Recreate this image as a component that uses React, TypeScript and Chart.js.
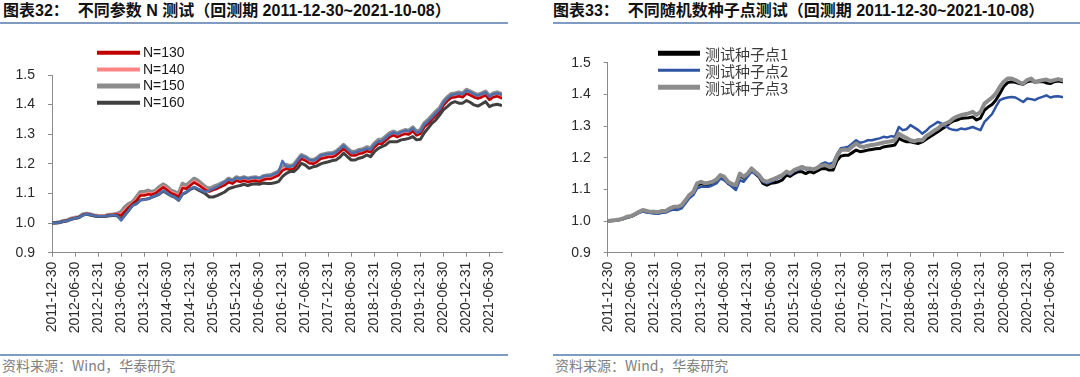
import React, { useEffect, useRef } from 'react';
import { Chart, registerables } from 'chart.js';

Chart.register(...registerables);

// ---------- categories ----------
const START = '2011-12-30';
const END = '2021-10-08';
const tickDates = [
  '2011-12-30', '2012-06-30', '2012-12-31', '2013-06-30', '2013-12-31',
  '2014-06-30', '2014-12-31', '2015-06-30', '2015-12-31', '2016-06-30',
  '2016-12-31', '2017-06-30', '2017-12-31', '2018-06-30', '2018-12-31',
  '2019-06-30', '2019-12-31', '2020-06-30', '2020-12-31', '2021-06-30',
];
const yTicks = [0.9, 1.0, 1.1, 1.2, 1.3, 1.4, 1.5];

// month-end observation dates: 2011-12-30, 2012-01-31 ... 2021-09-30, 2021-10-08
const obsDates: string[] = (() => {
  const out = [START];
  for (let k = 1; k <= 117; k++) out.push(new Date(Date.UTC(2012, k, 0)).toISOString().slice(0, 10));
  out.push(END);
  return out;
})();
const dayOf = (s: string) => (Date.parse(s) - Date.parse(START)) / 864e5;

// ---------- chart 32: parameter N ----------
const n130 = [
  1.000, 1.001, 1.003, 1.006, 1.009, 1.014, 1.017, 1.020, 1.028, 1.031, 1.028, 1.025, 1.023, 1.023, 1.024, 1.027, 1.028, 1.029,
  1.025, 1.040, 1.054, 1.066, 1.076, 1.093, 1.093, 1.097, 1.096, 1.101, 1.111, 1.121, 1.112, 1.101, 1.096, 1.088, 1.118, 1.116, 1.127, 1.137, 1.130, 1.121,
  1.112, 1.106, 1.111, 1.116, 1.122, 1.128, 1.138, 1.133, 1.143, 1.139, 1.143, 1.139, 1.141, 1.143, 1.139, 1.146, 1.149,
  1.149, 1.155, 1.161, 1.177, 1.183, 1.180, 1.183, 1.200, 1.217, 1.211,
  1.202, 1.200, 1.206, 1.217, 1.220, 1.223, 1.223, 1.228, 1.239, 1.251,
  1.239, 1.228, 1.228, 1.234, 1.236, 1.243, 1.239, 1.256, 1.268, 1.268,
  1.279, 1.290, 1.296, 1.290, 1.296, 1.301, 1.299, 1.310, 1.296, 1.301,
  1.324, 1.335, 1.349, 1.363, 1.375, 1.397, 1.412, 1.423, 1.425, 1.428,
  1.425, 1.437, 1.431, 1.425, 1.420, 1.425, 1.431, 1.416, 1.425, 1.428,
  1.423, 1.420,
];
const n140 = [
  1.000, 1.001, 1.003, 1.007, 1.009, 1.014, 1.018, 1.020, 1.028, 1.031, 1.029, 1.026, 1.024, 1.024, 1.024, 1.027, 1.028, 1.030,
  1.028, 1.044, 1.057, 1.067, 1.080, 1.096, 1.097, 1.101, 1.098, 1.104, 1.114, 1.124, 1.115, 1.104, 1.099, 1.091, 1.122, 1.119, 1.130, 1.141, 1.134, 1.124,
  1.115, 1.109, 1.115, 1.120, 1.126, 1.132, 1.142, 1.137, 1.147, 1.143, 1.147, 1.143, 1.145, 1.147, 1.143, 1.150, 1.153,
  1.154, 1.160, 1.166, 1.182, 1.188, 1.185, 1.188, 1.205, 1.222, 1.216,
  1.207, 1.205, 1.211, 1.222, 1.225, 1.228, 1.228, 1.233, 1.244, 1.256,
  1.244, 1.233, 1.233, 1.239, 1.241, 1.248, 1.244, 1.261, 1.273, 1.273,
  1.284, 1.295, 1.301, 1.295, 1.301, 1.306, 1.304, 1.315, 1.301, 1.306,
  1.329, 1.340, 1.354, 1.368, 1.380, 1.402, 1.417, 1.428, 1.430, 1.433,
  1.430, 1.442, 1.436, 1.430, 1.425, 1.430, 1.436, 1.421, 1.430, 1.433,
  1.428, 1.425,
];
const n150 = [
  1.000, 1.001, 1.003, 1.007, 1.009, 1.015, 1.018, 1.020, 1.029, 1.032, 1.029, 1.026, 1.024, 1.024, 1.025, 1.028, 1.029, 1.032,
  1.037, 1.054, 1.065, 1.071, 1.088, 1.105, 1.105, 1.110, 1.105, 1.110, 1.122, 1.131, 1.122, 1.110, 1.105, 1.099, 1.133, 1.127, 1.139, 1.150, 1.144, 1.133,
  1.122, 1.116, 1.122, 1.127, 1.133, 1.139, 1.150, 1.144, 1.155, 1.150, 1.155, 1.150, 1.153, 1.155, 1.150, 1.158, 1.161,
  1.162, 1.168, 1.174, 1.190, 1.196, 1.193, 1.196, 1.213, 1.230, 1.224,
  1.215, 1.213, 1.219, 1.230, 1.233, 1.236, 1.236, 1.241, 1.252, 1.264,
  1.252, 1.241, 1.241, 1.247, 1.249, 1.256, 1.252, 1.269, 1.281, 1.281,
  1.292, 1.303, 1.309, 1.303, 1.309, 1.314, 1.312, 1.323, 1.309, 1.314,
  1.337, 1.348, 1.362, 1.376, 1.388, 1.410, 1.425, 1.436, 1.438, 1.441,
  1.438, 1.450, 1.444, 1.438, 1.433, 1.438, 1.444, 1.429, 1.438, 1.441,
  1.436, 1.433,
];
const n160 = [
  1.000, 1.001, 1.002, 1.006, 1.008, 1.013, 1.016, 1.019, 1.027, 1.030, 1.027, 1.024, 1.022, 1.022, 1.023, 1.025, 1.026, 1.024,
  1.012, 1.028, 1.044, 1.060, 1.066, 1.078, 1.080, 1.082, 1.087, 1.092, 1.098, 1.108, 1.100, 1.092, 1.087, 1.077, 1.098, 1.104, 1.114, 1.120, 1.113, 1.106,
  1.099, 1.088, 1.088, 1.093, 1.099, 1.105, 1.116, 1.120, 1.124, 1.127, 1.131, 1.127, 1.131, 1.133, 1.131, 1.135, 1.134,
  1.134, 1.136, 1.140, 1.157, 1.168, 1.174, 1.174, 1.185, 1.202, 1.196,
  1.185, 1.190, 1.193, 1.200, 1.204, 1.207, 1.211, 1.213, 1.222, 1.236,
  1.224, 1.213, 1.213, 1.219, 1.222, 1.230, 1.224, 1.241, 1.252, 1.258,
  1.264, 1.275, 1.275, 1.275, 1.281, 1.283, 1.286, 1.292, 1.281, 1.283,
  1.305, 1.320, 1.337, 1.348, 1.365, 1.382, 1.393, 1.405, 1.410, 1.405,
  1.405, 1.414, 1.407, 1.399, 1.395, 1.402, 1.410, 1.393, 1.399, 1.401,
  1.398, 1.395,
];
// fifth (unlabelled, blue) curve visible in the original figure
const nBase = [
  1.000, 1.001, 1.002, 1.006, 1.008, 1.013, 1.017, 1.019, 1.027, 1.030, 1.028, 1.025, 1.023, 1.023, 1.024, 1.026, 1.027, 1.025,
  1.009, 1.026, 1.043, 1.060, 1.065, 1.077, 1.079, 1.082, 1.088, 1.093, 1.099, 1.110, 1.101, 1.093, 1.088, 1.077, 1.099, 1.105, 1.116, 1.122, 1.116, 1.110,
  1.105, 1.110, 1.116, 1.122, 1.131, 1.139, 1.148, 1.143, 1.153, 1.149, 1.154, 1.150, 1.152, 1.154, 1.151, 1.157, 1.160,
  1.160, 1.166, 1.172, 1.210, 1.190, 1.190, 1.194, 1.211, 1.227, 1.222,
  1.213, 1.211, 1.217, 1.228, 1.231, 1.234, 1.234, 1.239, 1.250, 1.262,
  1.248, 1.237, 1.238, 1.244, 1.246, 1.252, 1.248, 1.265, 1.276, 1.277,
  1.288, 1.299, 1.306, 1.300, 1.307, 1.312, 1.310, 1.320, 1.305, 1.310,
  1.333, 1.344, 1.357, 1.371, 1.384, 1.406, 1.421, 1.432, 1.435, 1.438,
  1.435, 1.447, 1.441, 1.435, 1.430, 1.436, 1.441, 1.427, 1.436, 1.438,
  1.434, 1.431,
];

// ---------- chart 33: random seeds ----------
const seed1 = [
  1.000, 1.001, 1.002, 1.004, 1.007, 1.012, 1.014, 1.020, 1.027, 1.032, 1.029, 1.027, 1.026, 1.025, 1.029, 1.029, 1.036, 1.041,
  1.041, 1.046, 1.061, 1.077, 1.087, 1.113, 1.118, 1.114, 1.116, 1.119, 1.126, 1.139, 1.134, 1.119, 1.112, 1.108, 1.144, 1.135, 1.145, 1.160, 1.150, 1.139,
  1.119, 1.113, 1.119, 1.121, 1.124, 1.130, 1.145, 1.141, 1.150, 1.156, 1.156, 1.150,
  1.156, 1.152, 1.158, 1.165, 1.166, 1.161, 1.161, 1.190, 1.205, 1.208,
  1.208, 1.216, 1.224, 1.219, 1.221, 1.224, 1.226, 1.228, 1.229, 1.234,
  1.236, 1.238, 1.240, 1.261, 1.255, 1.250, 1.250, 1.247, 1.245, 1.250,
  1.258, 1.266, 1.274, 1.282, 1.290, 1.298, 1.308, 1.316, 1.319, 1.324,
  1.325, 1.326, 1.329, 1.319, 1.325, 1.350, 1.360, 1.368, 1.382, 1.403,
  1.425, 1.437, 1.440, 1.438, 1.434, 1.432, 1.440, 1.443, 1.439, 1.440,
  1.441, 1.436, 1.434, 1.440, 1.442, 1.440, 1.439,
];
const seed2 = [
  1.000, 1.001, 1.002, 1.004, 1.006, 1.011, 1.014, 1.020, 1.026, 1.030, 1.027, 1.025, 1.024, 1.023, 1.026, 1.027, 1.033, 1.036,
  1.035, 1.040, 1.056, 1.072, 1.082, 1.103, 1.108, 1.108, 1.108, 1.113, 1.119, 1.134, 1.129, 1.119, 1.108, 1.098, 1.129, 1.124, 1.140, 1.156, 1.150, 1.140,
  1.124, 1.119, 1.124, 1.130, 1.136, 1.141, 1.152, 1.147, 1.157, 1.162, 1.168, 1.163,
  1.165, 1.162, 1.170, 1.180, 1.185, 1.180, 1.184, 1.210, 1.230, 1.232,
  1.235, 1.245, 1.255, 1.247, 1.250, 1.255, 1.255, 1.258, 1.261, 1.266,
  1.264, 1.268, 1.266, 1.297, 1.287, 1.290, 1.303, 1.295, 1.287, 1.276,
  1.285, 1.297, 1.305, 1.313, 1.308, 1.300, 1.292, 1.288, 1.287, 1.292,
  1.290, 1.293, 1.297, 1.292, 1.287, 1.313, 1.325, 1.338, 1.361, 1.382,
  1.387, 1.390, 1.392, 1.390, 1.383, 1.376, 1.387, 1.385, 1.382, 1.388,
  1.392, 1.397, 1.390, 1.393, 1.394, 1.392, 1.392,
];
const seed3 = [
  1.000, 1.002, 1.003, 1.005, 1.008, 1.014, 1.016, 1.022, 1.029, 1.035, 1.032, 1.029, 1.029, 1.028, 1.032, 1.032, 1.040, 1.045,
  1.045, 1.050, 1.066, 1.082, 1.092, 1.119, 1.124, 1.119, 1.121, 1.124, 1.131, 1.145, 1.140, 1.124, 1.117, 1.113, 1.150, 1.140, 1.150, 1.166, 1.156, 1.145,
  1.129, 1.124, 1.129, 1.134, 1.140, 1.145, 1.156, 1.151, 1.161, 1.166, 1.171, 1.166,
  1.166, 1.163, 1.168, 1.175, 1.177, 1.172, 1.173, 1.205, 1.224, 1.226,
  1.224, 1.235, 1.245, 1.236, 1.234, 1.238, 1.240, 1.242, 1.245, 1.248,
  1.250, 1.252, 1.255, 1.276, 1.268, 1.262, 1.255, 1.252, 1.256, 1.255,
  1.268, 1.276, 1.285, 1.292, 1.303, 1.308, 1.313, 1.324, 1.330, 1.334,
  1.337, 1.340, 1.345, 1.335, 1.345, 1.371, 1.380, 1.390, 1.403, 1.424,
  1.440, 1.450, 1.450, 1.445, 1.438, 1.434, 1.445, 1.450, 1.439, 1.442,
  1.445, 1.447, 1.442, 1.445, 1.448, 1.445, 1.445,
];

// ---------- helpers ----------
const FONT = '"Liberation Sans", Arial, "Noto Sans CJK SC", sans-serif';
const toPoints = (vals: number[]) => vals.map((v, i) => ({ x: dayOf(obsDates[i]), y: v }));

const innerLegend = {
  id: 'innerLegend',
  afterDraw(chart: any, _args: any, o: any) {
    const { ctx, chartArea } = chart;
    const items = chart.data.datasets.filter((d: any) => d.label);
    ctx.save();
    items.forEach((d: any, i: number) => {
      const y = chartArea.top + o.dy + i * o.gap;
      const x0 = chartArea.left + o.dx;
      ctx.strokeStyle = d.borderColor;
      ctx.lineWidth = d.legendWidth;
      ctx.lineCap = 'butt';
      ctx.beginPath();
      ctx.moveTo(x0, y);
      ctx.lineTo(x0 + o.len, y);
      ctx.stroke();
      ctx.fillStyle = o.color;
      ctx.font = o.font;
      ctx.textAlign = 'left';
      ctx.textBaseline = 'middle';
      ctx.fillText(d.label, x0 + o.len + o.textGap, y + 0.5);
    });
    ctx.restore();
  },
};

type Spec = {
  datasets: any[];
  padTop: number;
  yWidth: number;
  padRight: number;
  legend: any;
};

function makeConfig(s: Spec): any {
  const axisColor = '#8a8a8a';
  return {
    type: 'line',
    data: { datasets: s.datasets },
    plugins: [innerLegend],
    options: {
      responsive: false,
      animation: false,
      devicePixelRatio: 1,
      layout: { padding: { left: 8, top: s.padTop, right: s.padRight, bottom: 0 } },
      elements: { point: { radius: 0 }, line: { tension: 0, borderJoinStyle: 'round' } },
      plugins: { legend: { display: false }, tooltip: { enabled: false }, innerLegend: s.legend },
      scales: {
        x: {
          type: 'linear',
          min: 0,
          max: dayOf(END),
          afterBuildTicks: (sc: any) => { sc.ticks = tickDates.map((d) => ({ value: dayOf(d) })); },
          afterFit: (sc: any) => { sc.height = 97.3; sc.paddingLeft = 0; sc.paddingRight = 0; },
          ticks: {
            autoSkip: false,
            maxRotation: 90,
            minRotation: 90,
            padding: 5,
            color: '#2a2a2a',
            font: { family: FONT, size: 14 },
            callback: (_v: any, i: number) => tickDates[i],
          },
          grid: { drawOnChartArea: false, drawTicks: true, tickLength: 4, color: axisColor },
          border: { color: axisColor, width: 1 },
        },
        y: {
          min: 0.9,
          max: 1.5,
          afterBuildTicks: (sc: any) => { sc.ticks = yTicks.map((v) => ({ value: v })); },
          afterFit: (sc: any) => { sc.width = s.yWidth; },
          ticks: {
            padding: 13,
            color: '#2a2a2a',
            font: { family: FONT, size: 14 },
            callback: (v: any) => Number(v).toFixed(1),
          },
          grid: { drawOnChartArea: false, drawTicks: true, tickLength: 4, color: axisColor },
          border: { color: axisColor, width: 1 },
        },
      },
    },
  };
}

function LineChart({ spec, left, width }: { spec: Spec; left: number; width: number }) {
  const ref = useRef<HTMLCanvasElement>(null);
  useEffect(() => {
    if (!ref.current) return;
    const chart = new Chart(ref.current, makeConfig(spec));
    return () => chart.destroy();
  }, [spec]);
  return (
    <canvas
      ref={ref}
      width={width}
      height={320}
      style={{ position: 'absolute', left, top: 30, width, height: 320 }}
    />
  );
}

const leftSpec: Spec = {
  padTop: 45,
  yWidth: 44,
  padRight: 18,
  legend: { dx: 45, dy: -22.3, gap: 16.7, len: 43, textGap: 3, font: `14px ${FONT}`, color: '#1a1a1a' },
  datasets: [
    { data: toPoints(nBase), borderColor: '#4d6fab', borderWidth: 2.5, order: 0 },
    { label: 'N=130', data: toPoints(n130), borderColor: '#c00000', borderWidth: 2.5, legendWidth: 4, order: 2 },
    { label: 'N=140', data: toPoints(n140), borderColor: '#ff8585', borderWidth: 3, legendWidth: 4, order: 3 },
    { label: 'N=150', data: toPoints(n150), borderColor: '#8c8c8c', borderWidth: 4, legendWidth: 5, order: 4 },
    { label: 'N=160', data: toPoints(n160), borderColor: '#404040', borderWidth: 3, legendWidth: 4, order: 1 },
  ],
};

const rightSpec: Spec = {
  padTop: 32.7,
  yWidth: 51.7,
  padRight: 17,
  legend: { dx: 50.3, dy: -9.4, gap: 17, len: 42, textGap: 5, font: `15px "Noto Sans CJK SC", ${FONT}`, color: '#3a3a3a' },
  datasets: [
    { label: '测试种子点1', data: toPoints(seed1), borderColor: '#000000', borderWidth: 3, legendWidth: 5, order: 2 },
    { label: '测试种子点2', data: toPoints(seed2), borderColor: '#2f54a3', borderWidth: 2.5, legendWidth: 3, order: 1 },
    { label: '测试种子点3', data: toPoints(seed3), borderColor: '#8c8c8c', borderWidth: 4, legendWidth: 5, order: 0 },
  ],
};

const titleStyle: React.CSSProperties = {
  position: 'absolute',
  top: 0,
  whiteSpace: 'pre',
  fontFamily: FONT,
  fontWeight: 'bold',
  fontSize: 16,
  lineHeight: '21px',
  color: '#111',
};
const sourceStyle: React.CSSProperties = {
  position: 'absolute',
  top: 356,
  whiteSpace: 'pre',
  fontFamily: '"Noto Sans CJK SC", "Liberation Sans", sans-serif',
  fontSize: 14,
  lineHeight: '19px',
  color: '#808080',
};
const rule = (left: number, width: number, top: number): React.CSSProperties => ({
  position: 'absolute', left, width, top, height: 2, background: '#7f9bc2',
});

export default function App() {
  return (
    <div style={{ position: 'fixed', left: 0, top: 0, width: 1080, height: 377, background: '#fff', overflow: 'hidden' }}>
      <div style={{ ...titleStyle, left: 3 }}>{'图表32：  不同参数 N 测试（回测期 2011-12-30~2021-10-08）'}</div>
      <div style={{ ...titleStyle, left: 553 }}>{'图表33：  不同随机数种子点测试（回测期 2011-12-30~2021-10-08）'}</div>
      <div style={rule(0, 508, 22)} />
      <div style={rule(553, 527, 22)} />
      <LineChart spec={leftSpec} left={0} width={520} />
      <LineChart spec={rightSpec} left={548} width={532} />
      <div style={rule(0, 508, 354)} />
      <div style={rule(553, 527, 354)} />
      <div style={{ ...sourceStyle, left: 2 }}>{'资料来源：Wind，华泰研究'}</div>
      <div style={{ ...sourceStyle, left: 555 }}>{'资料来源：Wind，华泰研究'}</div>
    </div>
  );
}
